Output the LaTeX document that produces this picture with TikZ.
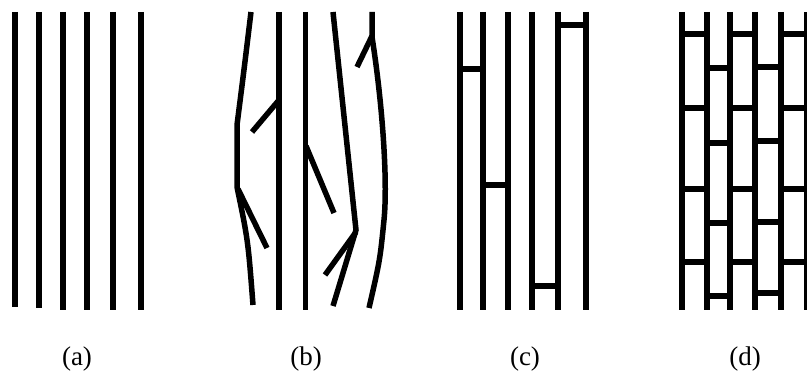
\documentclass[tikz,border=0pt]{standalone}
\usepackage{fontspec}
\setmainfont{Liberation Serif}
\usetikzlibrary{positioning,calc}

\begin{document}
\begin{tikzpicture}[
    x=1pt, y=-1pt,
    fibre/.style={draw, line width=5.5pt, line cap=butt, line join=miter},
    branch/.style={draw, line width=5.5pt, line cap=butt},
    rung/.style={draw, line width=5.5pt},
    caption/.style={anchor=base, font=\fontsize{27}{32}\selectfont}
]
    \useasboundingbox (0,0) rectangle (807,374);

    % (a) parallel fibres
    \foreach \x/\b in {15/307, 39/308, 63/310, 87/310, 113/310, 141/310}
        \path[fibre] (\x,12) -- (\x,\b);

    % (b) bent fibres with branches
    \path[fibre] (251,12) .. controls (244,70) .. (237,125) -- (237,187) .. controls (248,240) .. (253,305);
    \path[fibre] (279,12) -- (279,310);
    \path[fibre] (305.5,12) -- (305.5,310);
    \path[fibre] (333,12) -- (356,230) -- (333,306);
    \path[fibre] (372,12) -- (372,37) .. controls (382,100) and (388,180) .. (384,220) .. controls (380,260) .. (369,308);
    \path[branch] (279,100) -- (252,132);
    \path[branch] (238,189) -- (267,248);
    \path[branch] (306,146) -- (334,213);
    \path[branch] (356,232) -- (325,275);
    \path[branch] (372,36) -- (357,67);

    % (c) fibres with a few bridges
    \foreach \x in {460, 483, 508, 532, 558, 586}
        \path[fibre] (\x,12) -- (\x,310);
    \path[rung] (460,69) -- (483,69);
    \path[rung] (483,185) -- (508,185);
    \path[rung] (532,286) -- (558,286);
    \path[rung] (558,25) -- (586,25);

    % (d) brick-like network
    \foreach \x in {682, 707, 730, 755, 781, 806.5}
        \path[fibre] (\x,12) -- (\x,310);
    \foreach \xa/\xb in {682/707, 730/755, 781/806.5}
        \foreach \y in {34, 108, 189, 262}
            \path[rung] (\xa,\y) -- (\xb,\y);
    \foreach \y in {68, 143, 223, 296}
        \path[rung] (707,\y) -- (730,\y);
    \foreach \y in {67, 141, 222, 293}
        \path[rung] (755,\y) -- (781,\y);

    % Labels
    \node[caption] (capa) at (77,366) {(a)};
    \node[caption] (capb) at (306,366) {(b)};
    \node[caption] (capc) at (525,366) {(c)};
    \node[caption] (capd) at (745,366) {(d)};
\end{tikzpicture}
\end{document}
